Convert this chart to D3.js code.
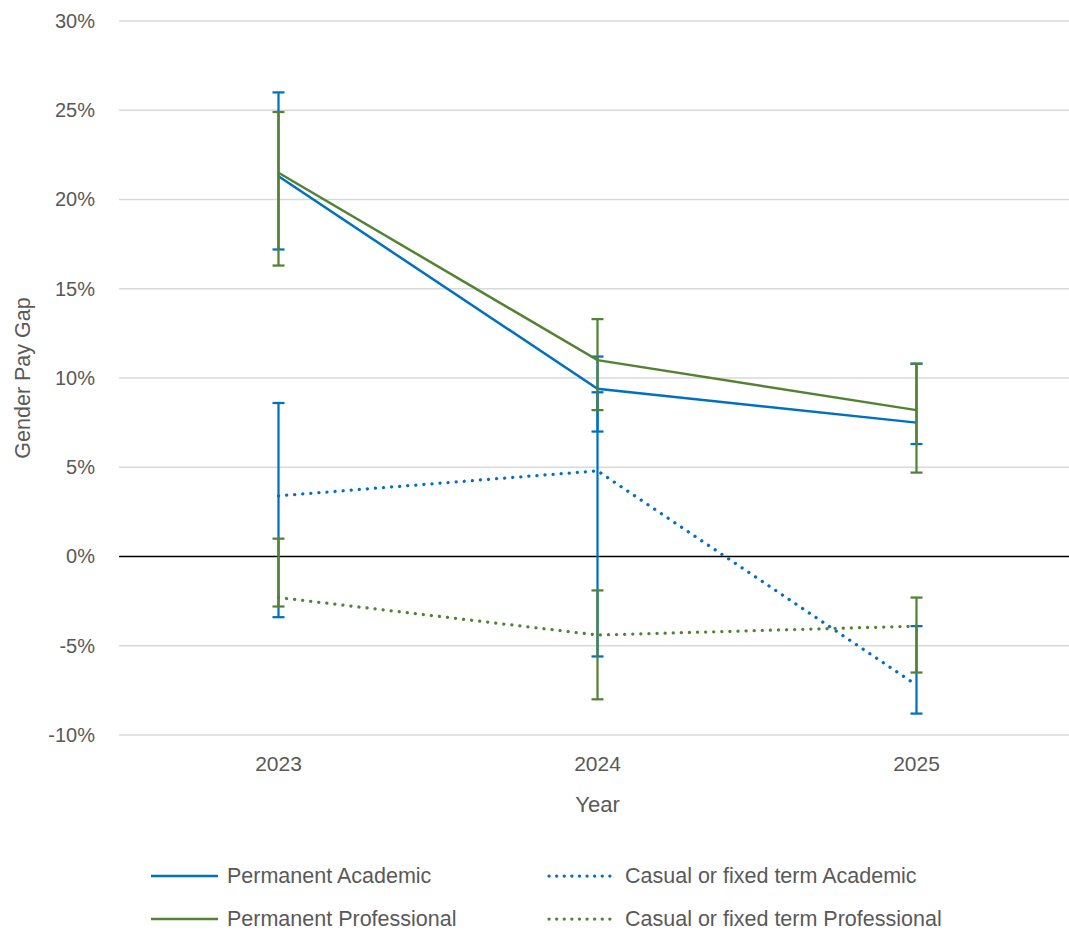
<!DOCTYPE html>
<html>
<head>
<meta charset="utf-8">
<script src="https://cdn.jsdelivr.net/npm/d3@7"></script>
<style>
  html, body { margin: 0; padding: 0; background: #fff; }
  svg { display: block; font-family: "Liberation Sans", Arial, sans-serif; }
</style>
</head>
<body>
<svg id="chart" width="1069" height="936"></svg>
<script>
// Gender pay gap by employment type, with uncertainty ranges
const years = ["2023", "2024", "2025"];
const yTicks = [-0.10, -0.05, 0, 0.05, 0.10, 0.15, 0.20, 0.25, 0.30];

const permAcademic      = [0.213, 0.094, 0.075];
const permAcademicLow   = [0.172, 0.070, 0.063];
const permAcademicHigh  = [0.260, 0.112, 0.108];

const casualAcademic     = [0.034, 0.048, -0.072];
const casualAcademicLow  = [-0.034, -0.056, -0.088];
const casualAcademicHigh = [0.086, 0.092, -0.039];

const permProfessional     = [0.215, 0.110, 0.082];
const permProfessionalLow  = [0.163, 0.082, 0.047];
const permProfessionalHigh = [0.249, 0.133, 0.108];

const casualProfessional     = [-0.023, -0.044, -0.039];
const casualProfessionalLow  = [-0.028, -0.080, -0.065];
const casualProfessionalHigh = [0.010, -0.019, -0.023];

const BLUE = "#0070C0", GREEN = "#548235";

const series = [
  { name: "Permanent Academic", values: permAcademic, low: permAcademicLow, high: permAcademicHigh, color: BLUE, dotted: false },
  { name: "Casual or fixed term Academic", values: casualAcademic, low: casualAcademicLow, high: casualAcademicHigh, color: BLUE, dotted: true },
  { name: "Permanent Professional", values: permProfessional, low: permProfessionalLow, high: permProfessionalHigh, color: GREEN, dotted: false },
  { name: "Casual or fixed term Professional", values: casualProfessional, low: casualProfessionalLow, high: casualProfessionalHigh, color: GREEN, dotted: true }
];

const svg = d3.select("#chart");
const plot = { left: 119, right: 1076, top: 21, bottom: 735 };

const x = d3.scaleBand().domain(years).range([plot.left, plot.right]);
const cx = d => x(d) + x.bandwidth() / 2;
const y = d3.scaleLinear().domain([-0.10, 0.30]).range([plot.bottom, plot.top]);

// horizontal gridlines
svg.append("g")
  .selectAll("line")
  .data(yTicks.filter(t => t !== 0))
  .join("line")
  .attr("x1", plot.left).attr("x2", plot.right)
  .attr("y1", d => y(d)).attr("y2", d => y(d))
  .attr("stroke", "#D9D9D9").attr("stroke-width", 1.5);

// y axis labels
const yAxis = d3.axisLeft(y).tickValues(yTicks).tickSize(0).tickPadding(0)
  .tickFormat(d => Math.round(d * 100) + "%");
svg.append("g")
  .attr("transform", `translate(95,0)`)
  .call(yAxis)
  .call(g => g.select(".domain").remove())
  .call(g => g.selectAll("text").attr("fill", "#595959").style("font-size", "20px")
    .style("font-family", "'Liberation Sans', Arial, sans-serif"));

// zero line
svg.append("line")
  .attr("x1", plot.left).attr("x2", plot.right)
  .attr("y1", y(0)).attr("y2", y(0))
  .attr("stroke", "#000").attr("stroke-width", 1.5);

// x axis labels
const xAxis = d3.axisBottom(x).tickSize(0).tickPadding(0);
svg.append("g")
  .attr("transform", `translate(0,756)`)
  .call(xAxis)
  .call(g => g.select(".domain").remove())
  .call(g => g.selectAll("text").attr("fill", "#595959").style("font-size", "21px")
    .style("font-family", "'Liberation Sans', Arial, sans-serif"));

// axis titles
svg.append("text")
  .attr("x", cx("2024")).attr("y", 812)
  .attr("text-anchor", "middle").attr("fill", "#595959")
  .style("font-size", "22px").text("Year");

svg.append("text")
  .attr("transform", `translate(30,${(plot.top + plot.bottom) / 2}) rotate(-90)`)
  .attr("text-anchor", "middle").attr("fill", "#595959")
  .style("font-size", "21.5px").text("Gender Pay Gap");

// series: error bars then line
const line = d3.line().x((d, i) => cx(years[i])).y(d => y(d));
const capHalf = 6;

series.forEach(s => {
  const g = svg.append("g");
  const eb = g.append("g").attr("stroke", s.color).attr("stroke-width", 2.25);
  years.forEach((yr, i) => {
    const xx = cx(yr);
    eb.append("line").attr("x1", xx).attr("x2", xx)
      .attr("y1", y(s.low[i])).attr("y2", y(s.high[i]));
    [s.low[i], s.high[i]].forEach(v => {
      eb.append("line").attr("x1", xx - capHalf).attr("x2", xx + capHalf)
        .attr("y1", y(v)).attr("y2", y(v));
    });
  });
  g.append("path")
    .datum(s.values)
    .attr("d", line)
    .attr("fill", "none")
    .attr("stroke", s.color)
    .attr("stroke-width", s.dotted ? 3.25 : 2.5)
    .attr("stroke-linecap", s.dotted ? "round" : "butt")
    .attr("stroke-dasharray", s.dotted ? "0.1 8" : null);
});

// legend
const legendPos = [
  { x: 151, y: 876 }, { x: 549, y: 876 },
  { x: 151, y: 919 }, { x: 549, y: 919 }
];
series.forEach((s, i) => {
  const p = legendPos[i];
  svg.append("line")
    .attr("x1", p.x).attr("x2", p.x + 67)
    .attr("y1", p.y).attr("y2", p.y)
    .attr("stroke", s.color)
    .attr("stroke-width", s.dotted ? 3.25 : 2.5)
    .attr("stroke-linecap", s.dotted ? "round" : "butt")
    .attr("stroke-dasharray", s.dotted ? "0.1 7.5" : null);
  svg.append("text")
    .attr("x", p.x + 76).attr("y", p.y + 7)
    .attr("fill", "#595959").style("font-size", "21.5px")
    .text(s.name);
});
</script>
</body>
</html>
